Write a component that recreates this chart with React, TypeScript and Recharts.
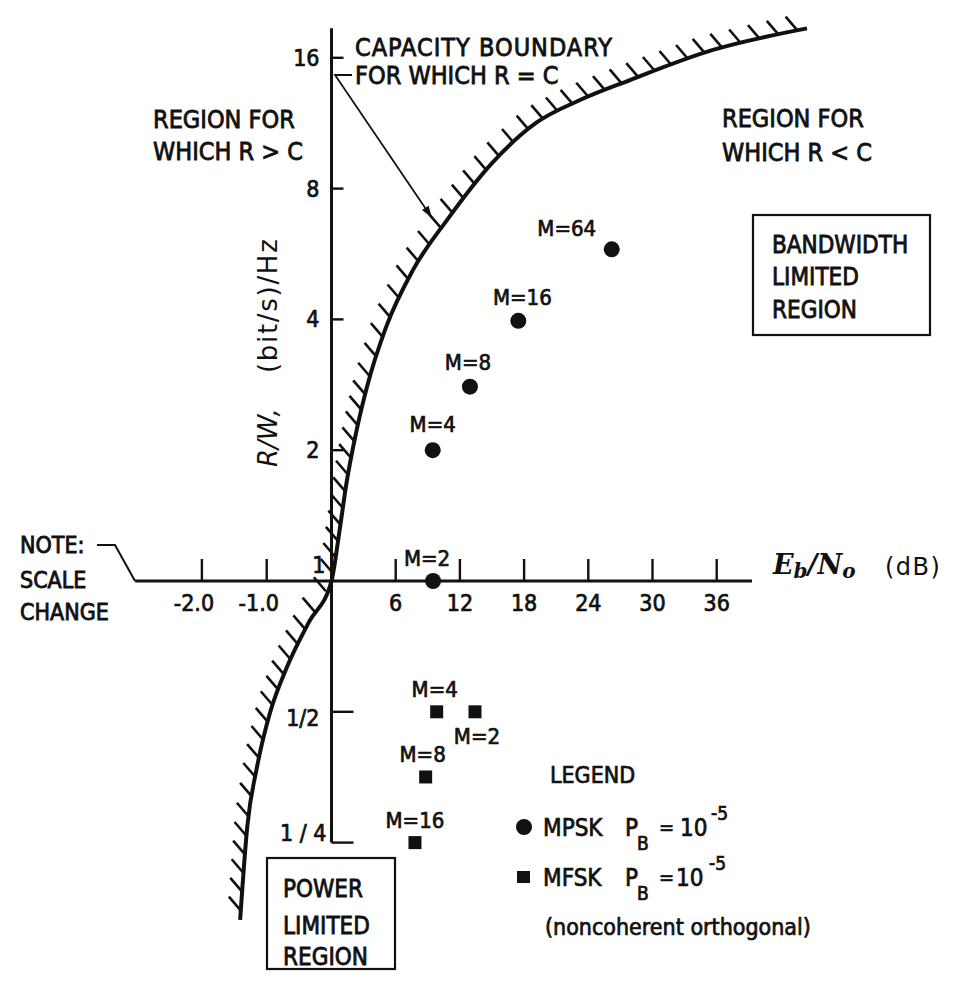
import React from "react";
import { ComposedChart, XAxis, YAxis, Line, Scatter, ReferenceLine } from "recharts";

const FONT = '"DejaVu Sans Condensed", "Liberation Sans Narrow", "DejaVu Sans", sans-serif';
const INK = "#111";

// capacity boundary R = C (Eb/N0 in dB, R/W in (bit/s)/Hz)
const boundaryDb = [-1.41, -1.3, -1.15, -0.95, -0.687, -0.347, 0, 0.72, 1.4, 2.29, 3.32, 5.1, 7.62, 10.79, 15.0, 19.11, 23.22, 27.9, 35.65, 44.44];
const boundaryRate = [0.166, 0.272, 0.373, 0.497, 0.634, 0.805, 1, 1.29, 1.68, 2.19, 2.8, 3.84, 5.2, 6.77, 9.16, 11.33, 12.79, 14.22, 16.68, 18.7];

const mpskLabels = ["M=2", "M=4", "M=8", "M=16", "M=64"];
const mpskDb = [9.49, 9.46, 12.94, 17.46, 26.19];
const mpskRate = [1, 2, 2.8, 3.97, 5.8];

const mfskLabels = ["M=2", "M=4", "M=8", "M=16"];
const mfskDb = [13.41, 9.83, 8.8, 7.8];
const mfskRate = [0.5, 0.5, 0.354, 0.25];

const xTickDb = [-2, -1, 6, 12, 18, 24, 30, 36];
const xTickLabels = ["-2.0", "-1.0", "6", "12", "18", "24", "30", "36"];
const yTickRate = [16, 8, 4, 2, 1, 0.5, 0.25];
const yTickLabels = ["16", "8", "4", "2", "1", "1/2", "1 / 4"];

const legendNames = ["MPSK", "MFSK"];

// axis extents
const xAxisFromDb = -3.03;
const xAxisToDb = 39.3;
const yAxisTop = 18.7;

// layout of the broken dB scale
const W = 953;
const H = 981;
const ORIGIN_X = 331.5;
const PX_PER_DB = 10.7;
const LEFT_STRETCH = 64.8 / PX_PER_DB;
const toAxis = (db: number) => (db < 0 ? db * LEFT_STRETCH : db);
const X_DOMAIN = [-ORIGIN_X / PX_PER_DB, (W - ORIGIN_X) / PX_PER_DB];
const Y_DOMAIN = [Math.pow(2, -400 / 130.8), Math.pow(2, 581 / 130.8)];

const boundary = boundaryDb.map((d, i) => ({ x: toAxis(d), y: boundaryRate[i] }));
const mpsk = mpskDb.map((d, i) => ({ x: toAxis(d), y: mpskRate[i], label: mpskLabels[i], i }));
const mfsk = mfskDb.map((d, i) => ({ x: toAxis(d), y: mfskRate[i], label: mfskLabels[i], i }));
const xTicks = xTickDb.map((d, i) => ({ x: toAxis(d), y: 1, label: xTickLabels[i], db: d }));
const yTicks = yTickRate.map((r, i) => ({ x: 0, y: r, label: yTickLabels[i] }));

const mpskLabelOffset = [[-6, -23], [0, -26], [-2, -25], [4, -24], [-45, -21]];
const mfskLabelOffset = [[2, 24], [-2, -23], [-3, -23], [0, -23]];

const HATCH_STEP = 19;

// hatch marks on the R > C side, walked along the whole drawn boundary
function allHatches(pts: { x: number; y: number }[]) {
  const out: React.ReactElement[] = [];
  for (let i = 1; i < pts.length; i++) {
    const a = pts[i - 1];
    const b = pts[i];
    const len = Math.hypot(b.x - a.x, b.y - a.y);
    const n = Math.max(1, Math.round(len / HATCH_STEP));
    for (let k = 0; k < n; k++) {
      const t = (k + 0.5) / n;
      const x = a.x + t * (b.x - a.x);
      const y = a.y + t * (b.y - a.y);
      out.push(
        <line key={`${i}-${k}`} x1={x} y1={y} x2={x - 12} y2={y - 14} stroke={INK} strokeWidth={2.6} />
      );
    }
  }
  return out;
}

const renderHatch = (p: any) => {
  if (p.index !== 0 || !p.points) return <g key={`hatch-${p.index}`} />;
  return <g key="hatch-all">{allHatches(p.points)}</g>;
};

const txt = { fill: INK, fontFamily: FONT, stroke: INK, strokeWidth: 0.7 };

const labelText = (x: number, y: number, s: string) => (
  <text x={x} y={y} textAnchor="middle" fontSize={22} {...txt}>
    {s}
  </text>
);

const circleShape = (p: any) => {
  const [dx, dy] = mpskLabelOffset[p.payload.i];
  return (
    <g>
      <circle cx={p.cx} cy={p.cy} r={8} fill={INK} />
      {labelText(p.cx + dx, p.cy + dy + 8, p.payload.label)}
    </g>
  );
};

const squareShape = (p: any) => {
  const [dx, dy] = mfskLabelOffset[p.payload.i];
  return (
    <g>
      <rect x={p.cx - 6.5} y={p.cy - 6.5} width={13} height={13} fill={INK} />
      {labelText(p.cx + dx, p.cy + dy + 8, p.payload.label)}
    </g>
  );
};

const xTickShape = (p: any) => {
  const shift = p.payload.db < 0 ? -8 : 0;
  return (
    <g>
      <line x1={p.cx} y1={p.cy} x2={p.cx} y2={p.cy - 22} stroke={INK} strokeWidth={2.4} />
      <text x={p.cx + shift} y={p.cy + 30} textAnchor="middle" fontSize={23} {...txt}>
        {p.payload.label}
      </text>
    </g>
  );
};

const yTickShape = (p: any) => {
  const v = p.payload.y;
  if (v === 1) {
    return (
      <text x={p.cx - 6} y={p.cy - 8} textAnchor="end" fontSize={23} {...txt}>
        {p.payload.label}
      </text>
    );
  }
  const len = v < 1 ? 22 : 12;
  const dy = v === 0.5 ? 14 : v === 0.25 ? -2 : 8;
  const right = v === 0.25 ? p.cx - 5 : p.cx - 12;
  return (
    <g>
      <line x1={p.cx} y1={p.cy} x2={p.cx + len} y2={p.cy} stroke={INK} strokeWidth={2.4} />
      <text x={right} y={p.cy + dy} textAnchor="end" fontSize={23} {...txt}>
        {p.payload.label}
      </text>
    </g>
  );
};

function LegendBlock() {
  return (
    <g transform="translate(500,750)">
      <text x={50} y={33} fontSize={23} {...txt}>LEGEND</text>
      {legendNames.map((name, i) => {
        const cy = 77 + i * 50;
        return (
          <g key={name}>
            {i === 0 ? (
              <circle cx={24} cy={cy} r={8} fill={INK} />
            ) : (
              <rect x={17} y={cy - 6} width={13} height={12} fill={INK} />
            )}
            <text x={43} y={cy + 9} fontSize={24} {...txt}>{name}</text>
            <text x={125} y={cy + 9} fontSize={24} {...txt}>P</text>
            <text x={137} y={cy + 23} fontSize={19} {...txt}>B</text>
            <text x={159} y={cy + 7} fontSize={20} {...txt}>=</text>
            <text x={180 - i * 4} y={cy + 9} fontSize={24} {...txt}>10</text>
            <text x={211 - i * 2} y={cy - 7} fontSize={19} {...txt}>-5</text>
          </g>
        );
      })}
      <text x={45} y={185} fontSize={23} {...txt}>(noncoherent orthogonal)</text>
    </g>
  );
}

const notes: [number, number, number, string][] = [
  [153, 128, 25, "REGION FOR"],
  [153, 160, 25, "WHICH R > C"],
  [722, 127, 25, "REGION FOR"],
  [722, 161, 25, "WHICH R < C"],
  [355, 56, 25, "CAPACITY BOUNDARY"],
  [355, 84, 25, "FOR WHICH R = C"],
  [772, 253, 24, "BANDWIDTH"],
  [772, 285, 24, "LIMITED"],
  [772, 318, 24, "REGION"],
  [283, 897, 24, "POWER"],
  [283, 934, 24, "LIMITED"],
  [283, 965, 24, "REGION"],
  [20, 553, 23, "NOTE:"],
  [20, 588, 23, "SCALE"],
  [20, 620, 23, "CHANGE"],
];

function Annotations() {
  return (
    <svg width={W} height={H} style={{ position: "absolute", left: 0, top: 0, pointerEvents: "none" }}>
      {notes.map(([x, y, s, t], i) => (
        <text key={i} x={x} y={y} fontSize={s} {...txt} strokeWidth={0.8} letterSpacing={i === 4 ? 1 : 0}>
          {t}
        </text>
      ))}
      <rect x={753} y={215} width={177} height={120} fill="none" stroke={INK} strokeWidth={2.2} />
      <rect x={267} y={858} width={128} height={111} fill="none" stroke={INK} strokeWidth={2.2} />
      <polyline points="97,545 115,545 135,581" fill="none" stroke={INK} strokeWidth={2} />
      <polyline points="352,75 335,75 432,218" fill="none" stroke={INK} strokeWidth={1.8} />
      <polygon points="432,218 422,210 428.6,205.8" fill={INK} />
      <text x={773} y={574} fontFamily='"DejaVu Serif", serif' fontWeight="bold" fontStyle="italic" fontSize={27} fill={INK}>
        E<tspan fontSize={20} dy={4}>b</tspan>
        <tspan fontSize={27} dy={-4}>/N</tspan>
        <tspan fontSize={20} dy={4}>o</tspan>
      </text>
      <text x={885} y={575} fontFamily='"DejaVu Sans", sans-serif' fontSize={24} letterSpacing={1.5} fill={INK}>
        (dB)
      </text>
      <text transform="translate(277,467) rotate(-90)" fontFamily='"DejaVu Sans", sans-serif' fontSize={26} fill={INK}>
        <tspan fontStyle="italic">R/W,</tspan>
        <tspan x={94} letterSpacing={1.7}>(bit/s)/Hz</tspan>
      </text>
      <LegendBlock />
    </svg>
  );
}

export default function App() {
  return (
    <div style={{ position: "absolute", left: 0, top: 0, width: W, height: H, background: "#fff" }}>
      <Annotations />
      <div style={{ position: "absolute", left: 0, top: 0 }}>
        <ComposedChart width={W} height={H} margin={{ top: 0, right: 0, bottom: 0, left: 0 }}>
          <XAxis type="number" dataKey="x" domain={X_DOMAIN} allowDataOverflow hide />
          <YAxis type="number" dataKey="y" scale="log" domain={Y_DOMAIN} allowDataOverflow hide />
          <ReferenceLine
            segment={[{ x: toAxis(xAxisFromDb), y: 1 }, { x: toAxis(xAxisToDb), y: 1 }]}
            stroke={INK}
            strokeWidth={3}
          />
          <ReferenceLine
            segment={[{ x: 0, y: yAxisTop }, { x: 0, y: 0.25 }]}
            stroke={INK}
            strokeWidth={3}
          />
          <Scatter data={xTicks} shape={xTickShape} legendType="none" isAnimationActive={false} />
          <Scatter data={yTicks} shape={yTickShape} legendType="none" isAnimationActive={false} />
          <Scatter name="MPSK" data={mpsk} shape={circleShape} fill={INK} isAnimationActive={false} />
          <Scatter name="MFSK" data={mfsk} shape={squareShape} fill={INK} isAnimationActive={false} />
          <Line
            data={boundary}
            dataKey="y"
            type="monotone"
            stroke={INK}
            strokeWidth={4}
            dot={renderHatch}
            activeDot={false}
            legendType="none"
            isAnimationActive={false}
          />
        </ComposedChart>
      </div>
    </div>
  );
}
